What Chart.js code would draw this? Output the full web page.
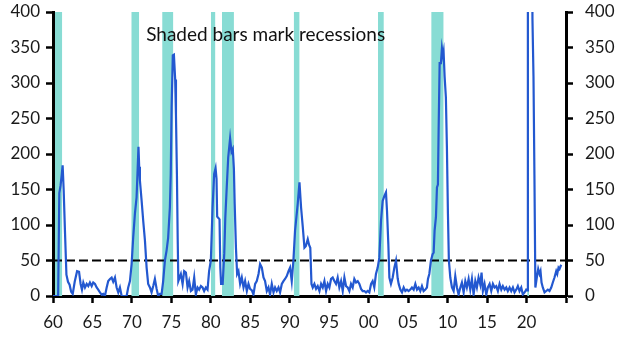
<!DOCTYPE html>
<html>
<head>
<meta charset="utf-8">
<script src="https://cdn.jsdelivr.net/npm/chart.js@4/dist/chart.umd.min.js"></script>
<style>
  body { margin: 0; background: #fff; }
</style>
</head>
<body>
<canvas id="chart" width="629" height="354"></canvas>
<script>
// series, [year, value]
const line60s = [
  [1960.0,0],[1960.65,0],[1960.8,145],[1960.95,155],[1961.1,170],[1961.22,184],[1961.35,150],[1961.52,90],
  [1961.7,30],[1961.9,20],[1962.1,16],[1962.3,6],[1962.5,3],[1962.75,20],[1963.05,35],[1963.3,34],
  [1963.5,17],[1963.67,9],[1963.84,19],[1964.05,12],[1964.27,17],[1964.47,14],[1964.68,19],[1964.9,14],
  [1965.1,19],[1965.32,17],[1965.53,12],[1965.73,9],[1965.95,5],[1966.16,2],[1966.37,3],[1966.58,0],
  [1966.8,12],[1967.0,21],[1967.22,24],[1967.43,26],[1967.63,20],[1967.85,26],[1968.06,12],[1968.27,5],
  [1968.48,12],[1968.7,0],[1969.0,0],[1969.33,0],[1969.53,12],[1969.75,21],[1969.96,45]
]
const line70s = [
  [1970.16,82],[1970.38,116],[1970.59,139],[1970.72,177],[1970.83,210],[1970.92,182],[1971.01,163],
  [1971.23,134],[1971.43,106],[1971.65,78],[1971.86,40],[1972.06,17],[1972.28,12],[1972.49,5],
  [1972.7,14],[1972.91,24],[1973.13,10],[1973.33,0],[1973.54,3],[1973.76,3],[1973.96,21],[1974.18,50],
  [1974.39,64],[1974.59,82],[1974.81,125],[1974.92,172],[1975.03,266],[1975.18,339],[1975.32,340],
  [1975.48,305],[1975.58,255],[1975.7,172],[1975.8,80],[1975.88,21],[1976.2,31],[1976.42,17],
  [1976.62,35],[1976.84,33],[1977.05,12],[1977.25,21],[1977.47,7],[1977.68,9],[1977.89,26],[1978.1,2],
  [1978.32,12],[1978.52,9],[1978.74,14],[1978.95,12],[1979.15,7],[1979.37,12],[1979.58,9],[1979.78,35]
]
const line80s = [
  [1980.0,50],[1980.22,125],[1980.42,172],[1980.6,180],[1980.72,165],[1980.8,112],[1981.1,108],
  [1981.2,40],[1981.3,17],[1981.5,17],[1981.7,60],[1981.83,110],[1982.0,150],[1982.2,195],[1982.44,222],
  [1982.62,203],[1982.78,207],[1982.92,179],[1983.02,130],[1983.18,68],[1983.33,31],[1983.5,35],
  [1983.71,17],[1983.92,26],[1984.14,12],[1984.34,21],[1984.56,7],[1984.77,17],[1984.97,10],[1985.2,8],
  [1985.4,2],[1985.61,17],[1985.82,21],[1986.04,31],[1986.24,45],[1986.46,40],[1986.67,26],[1986.87,21],
  [1987.09,7],[1987.3,12],[1987.5,2],[1987.72,17],[1987.94,5],[1988.14,12],[1988.35,7],[1988.57,12],
  [1988.77,5],[1988.99,17],[1989.2,21],[1989.4,24],[1989.62,28],[1989.84,35]
]
const line90s = [
  [1990.04,40],[1990.25,21],[1990.46,50],[1990.67,92],[1991.01,130],[1991.23,160],[1991.43,125],
  [1991.65,97],[1991.86,68],[1992.03,70],[1992.28,80],[1992.45,72],[1992.6,68],[1992.75,17],[1992.91,12],
  [1993.12,17],[1993.33,10],[1993.54,14],[1993.76,7],[1993.97,17],[1994.18,12],[1994.39,21],[1994.6,7],
  [1994.81,17],[1995.02,12],[1995.23,24],[1995.44,26],[1995.65,21],[1995.86,17],[1996.07,26],[1996.28,12],
  [1996.5,21],[1996.71,7],[1996.92,26],[1997.13,14],[1997.34,12],[1997.55,7],[1997.76,17],[1997.97,12],
  [1998.18,24],[1998.4,19],[1998.61,21],[1998.82,17],[1999.03,10],[1999.24,7],[1999.45,7],[1999.66,5],
  [1999.87,7]
]
const line00s = [
  [2000.08,5],[2000.3,17],[2000.5,21],[2000.71,12],[2000.92,31],[2001.14,40],[2001.35,54],[2001.56,106],
  [2001.77,134],[2001.99,141],[2002.19,146],[2002.32,120],[2002.49,73],[2002.62,26],[2002.82,17],
  [2003.04,26],[2003.25,40],[2003.46,50],[2003.67,25],[2003.8,17],[2004.01,9],[2004.22,5],[2004.43,12],
  [2004.64,7],[2004.85,9],[2005.06,7],[2005.27,9],[2005.48,12],[2005.7,9],[2005.91,17],[2006.12,9],
  [2006.33,12],[2006.54,7],[2006.75,14],[2006.96,7],[2007.18,9],[2007.38,12],[2007.51,24],[2007.68,31],
  [2007.89,50],[2008.1,59],[2008.23,61],[2008.35,92],[2008.52,111],[2008.65,153],[2008.77,157],
  [2008.86,233],[2008.99,328],[2009.15,328],[2009.28,349],[2009.41,339],[2009.49,344],[2009.62,309],
  [2009.78,280],[2009.91,210]
]
const line10s = [
  [2010.04,116],[2010.16,50],[2010.34,26],[2010.55,12],[2010.76,7],[2010.97,28],[2011.18,12],[2011.39,2],
  [2011.61,12],[2011.81,19],[2012.03,5],[2012.24,21],[2012.44,12],[2012.66,24],[2012.87,9],[2013.08,24],
  [2013.29,2],[2013.51,21],[2013.71,12],[2013.92,26],[2014.14,16],[2014.3,33],[2014.47,7],[2014.68,17],
  [2014.9,2],[2015.1,12],[2015.32,17],[2015.53,7],[2015.74,17],[2015.95,12],[2016.16,14],[2016.37,7],
  [2016.58,17],[2016.8,9],[2017.0,14],[2017.22,9],[2017.43,12],[2017.63,7],[2017.85,12],[2018.06,7],
  [2018.27,12],[2018.48,5],[2018.7,9],[2018.9,14],[2019.11,7],[2019.33,12],[2019.53,2],[2019.75,5],
  [2019.96,9]
]
const line20s = [
  [2020.08,8],[2020.17,1500],[2020.33,1800],[2020.5,1200],[2020.6,750],[2020.75,390],[2020.88,310],
  [2021.0,170],[2021.12,12],[2021.3,26],[2021.48,38],[2021.65,31],[2021.77,35],[2021.9,19],[2022.06,12],
  [2022.28,5],[2022.49,7],[2022.7,9],[2022.91,7],[2023.13,12],[2023.33,19],[2023.54,26],[2023.76,35],
  [2023.89,31],[2024.05,40],[2024.18,38],[2024.39,44]
]

// recessions, start and end as fractional years
const recessionStarts = [1960.25, 1969.92, 1973.83, 1980.0, 1981.4, 1990.5, 2001.17, 2007.92, 2020.08]
const recessionEnds   = [1961.17, 1970.92, 1975.25, 1980.58, 1982.92, 1991.25, 2001.92, 2009.5, 2020.33]

const yTicks = [0, 50, 100, 150, 200, 250, 300, 350, 400]
const threshold = 50
const noteText = 'Shaded bars mark recessions'

const series = [].concat(line60s, line70s, line80s, line90s, line00s, line10s, line20s)
  .map(p => ({ x: p[0], y: p[1] }))

const font = { family: 'Lato', size: 17 }

const recessionSets = recessionStarts.map((s, i) => ({
  type: 'line',
  data: [{ x: s, y: yTicks[yTicks.length - 1] }, { x: recessionEnds[i], y: yTicks[yTicks.length - 1] }],
  borderWidth: 0,
  pointRadius: 0,
  fill: 'origin',
  backgroundColor: '#88dcd4'
}))

// text inside the plot
const notePlugin = {
  id: 'note',
  afterDatasetsDraw(chart) {
    const ctx = chart.ctx
    const x = chart.scales.x.getPixelForValue(1971.8)
    const y = chart.scales.y.getPixelForValue(368)
    ctx.save()
    ctx.font = '19px Lato'
    ctx.fillStyle = '#111'
    ctx.textAlign = 'left'
    ctx.textBaseline = 'middle'
    ctx.fillText(noteText, x, y)
    ctx.restore()
  }
}

const axisGrid = { drawOnChartArea: false, drawTicks: true, tickLength: 7, tickWidth: 2.5, tickColor: '#000' }
const axisBorder = { display: true, color: '#000', width: 3 }

// fixed axis widths, no extra room for the end labels
const fitY = width => s => {
  s.width = width
  s.paddingTop = 0
  s.paddingBottom = 0
}

new Chart(document.getElementById('chart'), {
  type: 'line',
  data: {
    datasets: [
      {
        data: series,
        borderColor: '#2358d0',
        borderWidth: 2.2,
        pointRadius: 0,
        tension: 0,
        fill: false
      },
      {
        data: [{ x: 1960, y: threshold }, { x: 2025, y: threshold }],
        borderColor: '#000',
        borderWidth: 2,
        borderDash: [9, 4],
        pointRadius: 0,
        fill: false
      },
      ...recessionSets
    ]
  },
  options: {
    responsive: false,
    animation: false,
    devicePixelRatio: 1,
    layout: { padding: { top: 12, left: 0, right: 0, bottom: 0 } },
    plugins: { legend: { display: false }, tooltip: { enabled: false } },
    scales: {
      x: {
        type: 'linear',
        min: 1960,
        max: 2025,
        grid: axisGrid,
        border: axisBorder,
        afterFit: s => { s.height = 58 },
        ticks: {
          stepSize: 5,
          autoSkip: false,
          maxRotation: 0,
          padding: 9,
          color: '#1a1a1a',
          font: font,
          callback: v => v > 2020 ? '' : String(v % 100).padStart(2, '0')
        }
      },
      y: {
        position: 'left',
        min: 0,
        max: 400,
        grid: axisGrid,
        border: axisBorder,
        afterFit: fitY(53),
        afterBuildTicks: s => { s.ticks = yTicks.map(v => ({ value: v })) },
        ticks: { padding: 6, color: '#1a1a1a', font: font }
      },
      y2: {
        position: 'right',
        display: true,
        min: 0,
        max: 400,
        grid: axisGrid,
        border: axisBorder,
        afterFit: fitY(63),
        afterBuildTicks: s => { s.ticks = yTicks.map(v => ({ value: v })) },
        ticks: { padding: 12, color: '#1a1a1a', font: font }
      }
    }
  },
  plugins: [notePlugin]
})
</script>
</body>
</html>
